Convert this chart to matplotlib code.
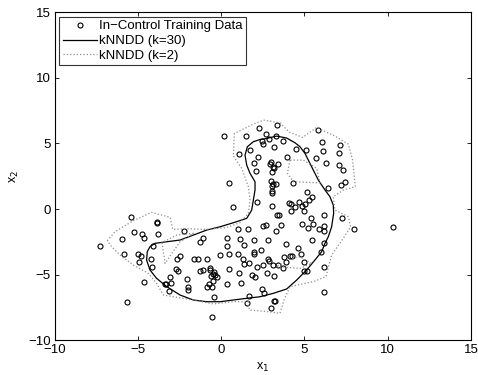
import matplotlib
matplotlib.use("Agg")
import matplotlib.pyplot as plt
import numpy as np

# in-control training data
pts_x = [0.15, 1.49, 2.27, 3.35, 2.67, 2.89, 3.29, 2.47, 2.51, 3.14, 3.69, 1.07, 1.71, 2.19,
         4.47, 3.97, 1.97, 2.91, 2.99, 3.39, 3.09, 3.19, 3.03, 2.11, 2.99, 3.09, 3.29, 3.03,
         3.07, 3.03, 0.49, 4.29, 0.69, 2.13, 3.03,
         5.84, 5.10, 6.06, 6.10, 5.70, 6.32, 7.15, 7.05, 7.09, 7.30, 7.46, 7.20, 6.40, 5.15,
         5.44, 5.30, 5.03, 4.65, 4.05, 4.17, 4.45, 4.83, 4.97, 4.21, 6.17, 5.39, 7.24, 3.33,
         3.49, 10.34, 7.97, 5.90, 6.17, 6.15, 4.87, 5.54, 5.24, 3.57, 2.53, 2.67, 3.29, 1.63,
         0.99, 5.48, 6.17, 1.13, 1.99, 2.83, 0.33, 0.37, 1.35, 3.87, 4.63, 6.00, 4.79, 2.41,
         1.97, 1.97, 1.01, 0.49, -0.07, 3.75, 4.11, 4.25, 1.29, 2.83, 2.85, 1.67, 3.87, 1.35,
         3.09, 3.39, 2.51, 2.13, 3.73, 4.99, 0.49, 4.97, 5.13, 6.15, 1.09, 2.77, 3.19, 1.87,
         2.03, 1.17, 0.35, 2.43, 2.55, 6.17, 1.69, 1.55, 3.14, 3.21, 2.99, -0.55,
         -5.39, -3.87, -3.85, -3.81, -5.21, -4.75, -4.61, -5.97, -7.25, -4.09, -2.25, -5.81,
         -5.01, -4.79, -4.93, -4.19, -4.17, -4.61, -2.47, -2.67, -2.71, -2.57, -3.09, -3.35,
         -3.01, -3.29, -3.13, -2.07, -2.01, -1.99, -5.65, -1.25, -1.07, -1.61, -1.37, -0.87,
         -1.25, -1.09, -0.69, -0.65, -0.45, -0.51, -0.37, -0.27, -0.63, -0.47, -0.87, -0.57,
         -0.75, -0.41]
pts_y = [5.60, 5.55, 6.20, 6.43, 5.70, 5.36, 5.56, 5.15, 4.95, 4.75, 5.18, 4.21, 4.47, 4.00,
         4.54, 4.00, 3.50, 3.45, 3.60, 3.45, 3.22, 3.10, 2.84, 2.87, 2.13, 1.88, 1.93, 1.75,
         1.35, 1.24, 2.00, 2.00, 0.13, 0.51, 0.23,
         6.04, 4.49, 5.10, 4.39, 3.90, 3.50, 4.85, 4.29, 3.32, 3.00, 2.03, 1.85, 1.62, 1.32,
         0.94, 0.69, 0.41, 0.53, 0.46, 0.38, 0.18, 0.25, -0.13, -0.13, -0.46, -0.66, -0.71,
         -0.46, -0.46, -1.35, -1.55, -1.55, -1.32, -1.65, -1.17, -1.14, -1.47, -1.22, -1.27,
         -1.24, -1.70, -1.50, -1.55, -2.34, -2.56, -2.31, -2.34, -2.39, -2.18, -2.79, -2.74,
         -2.69, -3.00, -3.25, -3.43, -3.12, -3.27, -3.43, -3.45, -3.40, -3.53, -3.65, -3.55,
         -3.58, -3.83, -3.78, -3.93, -4.09, -4.06, -4.19, -4.26, -4.24, -4.26, -4.42, -4.52,
         -4.01, -4.59, -4.72, -4.72, -4.42, -4.90, -4.85, -5.08, -5.05, -5.20, -5.63, -5.69,
         -6.09, -6.37, -6.32, -6.60, -7.18, -7.00, -7.00, -7.54, -8.22,
         -0.61, -0.96, -1.06, -1.93, -1.78, -1.88, -2.21, -2.26, -2.82, -2.84, -1.68, -3.43,
         -3.43, -3.55, -4.04, -3.83, -4.44, -5.53, -3.55, -3.81, -4.54, -4.75, -5.20, -5.69,
         -5.63, -5.74, -6.24, -5.36, -5.96, -6.17, -7.08, -2.49, -2.18, -3.83, -3.83, -3.81,
         -4.72, -4.67, -4.49, -4.64, -4.80, -4.95, -5.03, -5.15, -5.08, -5.48, -5.91, -5.91,
         -5.71, -6.70]

# kNNDD boundary, k=30
k30_x = [2.73, 3.33, 3.93, 4.43, 4.73, 5.03, 5.43, 5.83, 6.23, 6.53, 6.73, 6.75, 6.63, 6.43,
         6.23, 6.03, 5.63, 5.13, 4.53, 3.93, 3.13, 2.33, 1.53, 0.73, -0.07, -0.87, -1.67,
         -2.47, -3.27, -3.88, -4.28, -4.48, -4.44, -4.28, -3.98, -3.27, -2.47, -1.67, -0.87,
         -0.07, 0.73, 1.53, 1.83, 1.93, 2.03, 2.03, 1.73, 1.53, 1.43, 1.57, 1.93, 2.33, 2.73]
k30_y = [5.38, 5.56, 5.41, 5.05, 4.75, 4.24, 3.22, 2.21, 1.45, 0.94, 0.30, -0.33, -1.35,
         -2.11, -2.61, -3.25, -3.88, -4.64, -5.41, -6.09, -6.42, -6.68, -6.80, -6.93, -7.06,
         -7.06, -6.93, -6.55, -5.91, -5.28, -4.64, -3.88, -3.25, -2.87, -2.61, -2.49, -2.36,
         -1.98, -1.60, -1.35, -1.04, -0.71, -0.08, 0.69, 1.45, 2.08, 2.72, 3.35, 4.11, 4.75,
         5.13, 5.30, 5.38]

# kNNDD boundary, k=2 (outer ring plus holes)
k2_x = [-6.84, -6.38, -5.28, -4.18, -3.07, -2.91, -2.07, -0.87, 0.33, 1.13, 1.63, 1.73, 1.63,
        1.23, 0.73, 0.79, 1.93, 2.53, 3.53, 4.09, 4.89, 5.73, 6.83, 7.63, 7.89, 8.05, 7.33,
        6.73, 6.83, 7.63, 7.77, 7.33, 6.63, 6.29, 5.53, 4.13, 3.77, 3.53, 2.73, 1.69, 1.63,
        0.73, -0.47, -1.67, -2.87, -3.47, -3.88, -4.38, -5.28, -6.08, -6.58, -6.84]
k2_y = [-2.41, -1.73, -0.89, -0.25, -0.63, -1.55, -1.50, -1.55, -1.40, -1.04, -0.33, 0.69,
        1.70, 3.10, 4.04, 5.76, 6.47, 6.78, 6.57, 5.86, 5.46, 6.22, 5.56, 4.95, 3.73, 1.70,
        1.45, 0.94, -0.08, -0.58, -1.35, -2.23, -3.50, -5.15, -5.53, -5.91, -6.93, -7.94,
        -7.81, -7.69, -7.06, -7.06, -7.23, -6.93, -6.68, -6.55, -5.66, -4.90, -4.26, -3.50,
        -2.87, -2.41]
hole1_x = [-3.56, -3.37, -2.97, -2.47, -1.67, -2.67, -3.56]
hole1_y = [-2.56, -4.14, -3.38, -2.49, -1.85, -1.98, -2.56]
hole2_x = [4.13, 3.97, 4.33, 5.93, 5.73, 4.93, 4.13]
hole2_y = [3.73, 2.72, 2.08, 2.00, 3.10, 3.73, 3.73]
hole3_x = [3.33, 4.73, 5.43, 4.73, 3.93, 3.33]
hole3_y = [-4.39, -4.52, -4.14, -3.63, -3.88, -4.39]

plt.rcParams.update({
    "font.family": ["Liberation Sans", "DejaVu Sans"],
    "font.size": 9.5,
    "axes.linewidth": 0.8,
    "xtick.direction": "in",
    "ytick.direction": "in",
})

fig = plt.figure(figsize=(4.78, 3.75), dpi=100)
ax = fig.add_axes([0.1144, 0.0925, 0.871, 0.875])

dot_color = "#8c8c8c"
ax.plot(pts_x, pts_y, "o", mfc="none", mec="black", ms=3.6, mew=0.8,
        label="In\u2212Control Training Data")
ax.plot(k30_x, k30_y, "-", color="black", lw=0.9, label="kNNDD (k=30)")
ax.plot(k2_x, k2_y, ":", color=dot_color, lw=0.9, label="kNNDD (k=2)")
for hx, hy in [(hole1_x, hole1_y), (hole2_x, hole2_y), (hole3_x, hole3_y)]:
    ax.plot(hx, hy, ":", color=dot_color, lw=0.9)

ax.set_xlim(-10, 15)
ax.set_ylim(-10, 15)
ax.set_xticks([-10, -5, 0, 5, 10, 15])
ax.set_yticks([-10, -5, 0, 5, 10, 15])
ax.tick_params(top=True, right=True, length=3, width=0.6, labelsize=9.5, pad=3)
ax.set_xlabel("x$_1$", fontsize=9, labelpad=3)
ax.set_ylabel("x$_2$", fontsize=9, labelpad=5)

leg = ax.legend(loc="upper left", fontsize=9.5, frameon=True, fancybox=False,
                edgecolor="black", borderpad=0.25, labelspacing=0.2,
                handlelength=2.6, handletextpad=0.15, borderaxespad=0.35)
leg.get_frame().set_linewidth(0.8)

fig.savefig("out.png", dpi=100)
